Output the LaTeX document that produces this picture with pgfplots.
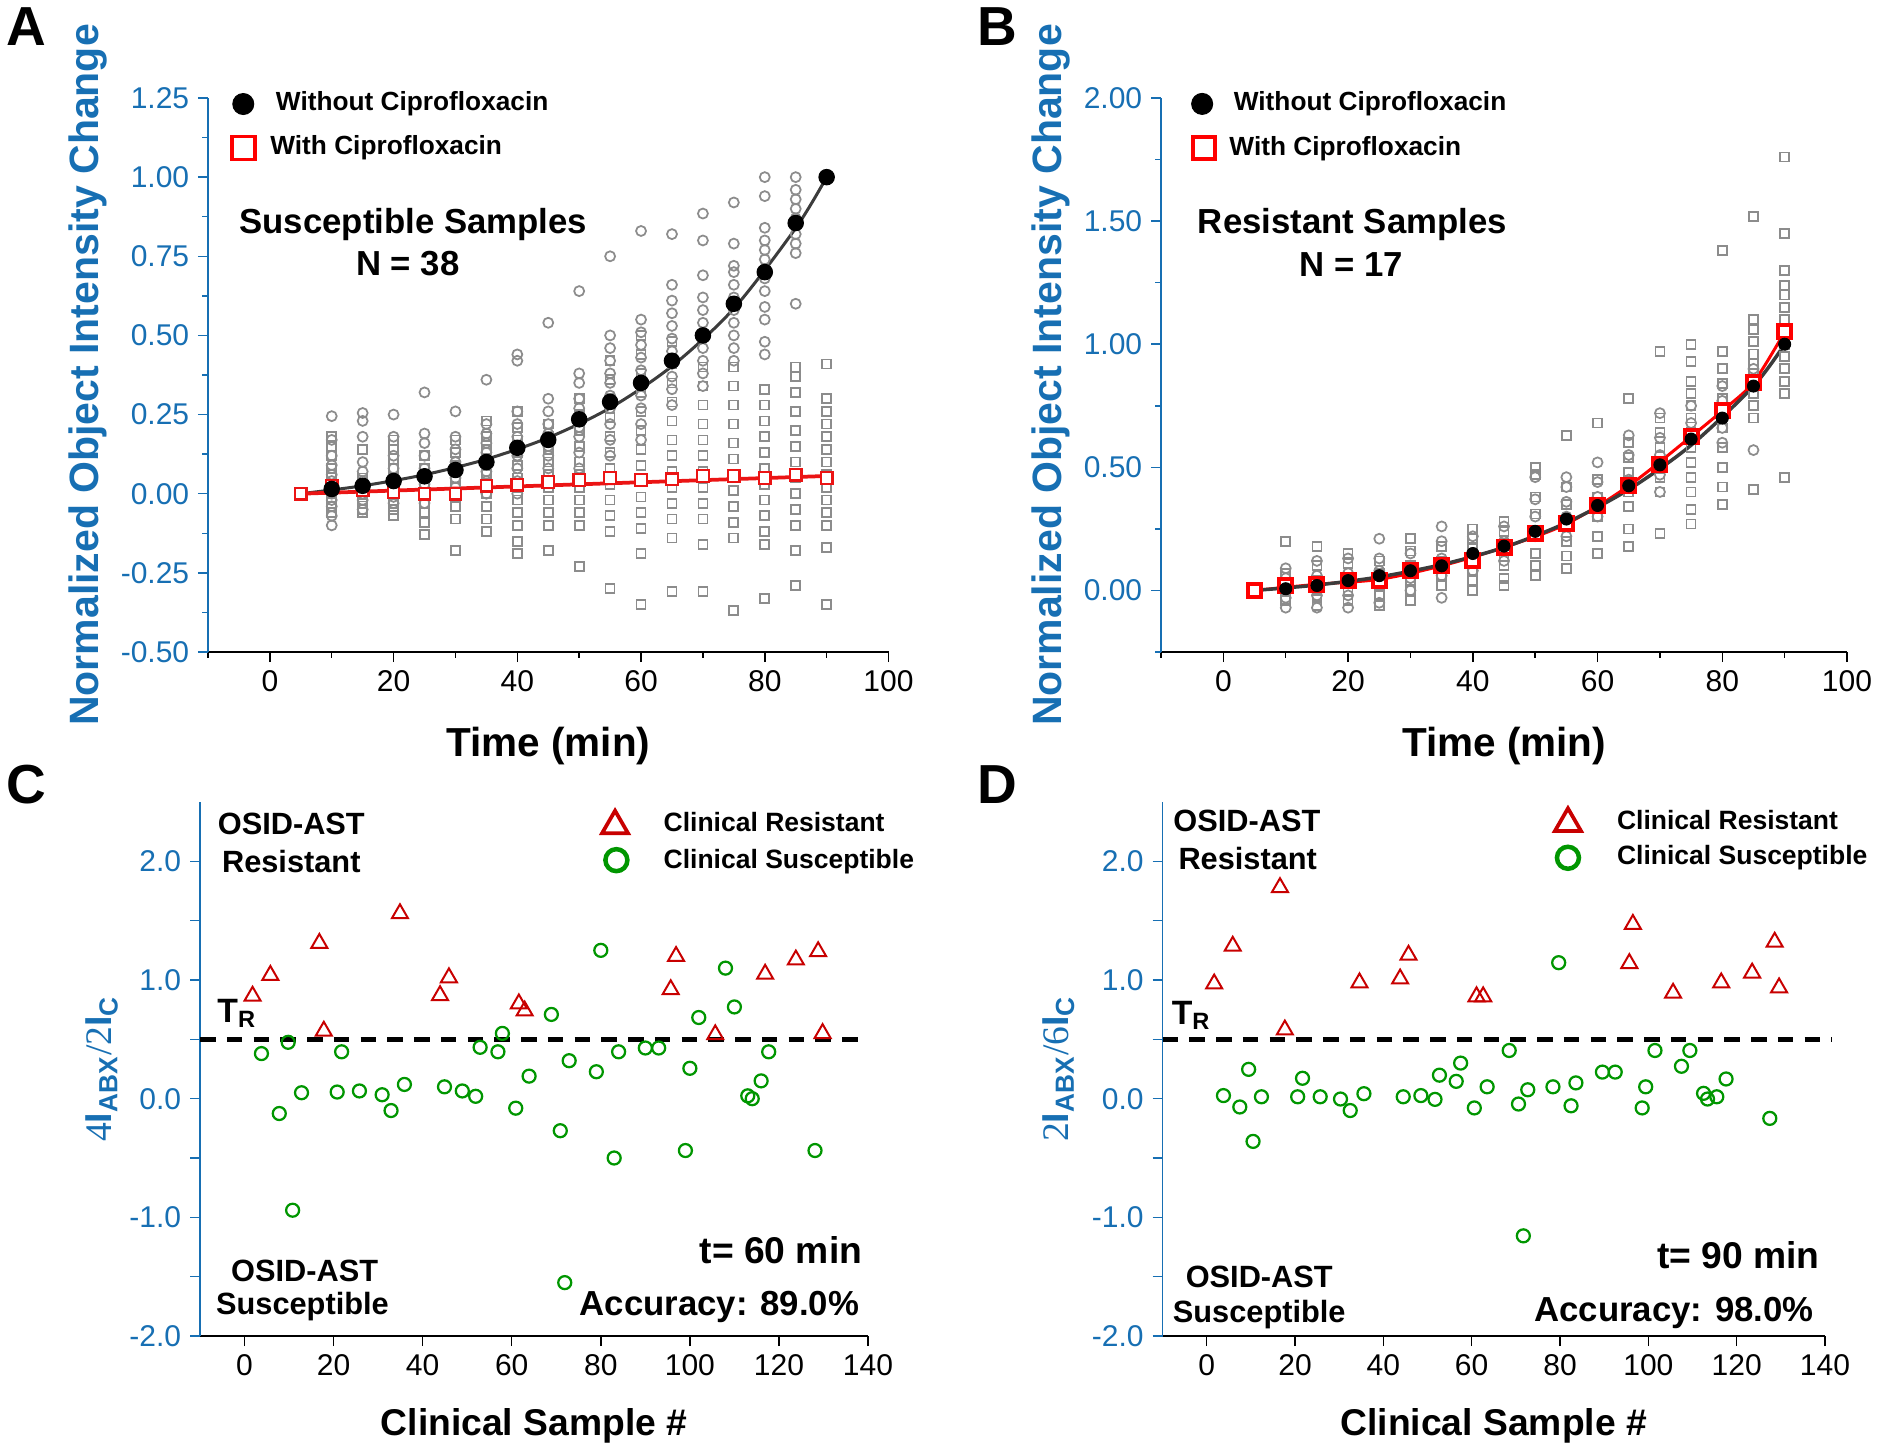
\documentclass[border=0pt]{standalone}
\usepackage{pgfplots}
\pgfplotsset{compat=1.18}
\usepackage{fontspec}
\setmainfont{Liberation Sans}
\newfontfamily\serifnum{Liberation Serif}
\definecolor{myblue}{RGB}{23,111,179}
\definecolor{mygray}{RGB}{140,140,140}
\definecolor{myred}{RGB}{235,20,20}
\definecolor{darkred}{RGB}{200,0,0}
\definecolor{mygreen}{RGB}{0,150,0}
\definecolor{fitgray}{RGB}{60,60,60}
\newcommand{\fs}[1]{\fontsize{#1}{#1}\selectfont}
\tikzset{tx/.style={inner sep=0pt, font=\bfseries\fs{#1}}}
\pgfplotsset{
  myax/.style={scale only axis, clip=false,
    axis x line*=bottom, axis y line*=left,
    x axis line style={-,black,line width=0.7pt},
    y axis line style={-,myblue,line width=0.7pt},
    tick align=outside, major tick length=4pt, minor tick length=2.3pt,
    x tick style={black,line width=0.6pt},
    y tick style={myblue,line width=0.6pt},
    tick label style={font=\fs{12}},
    yticklabel style={text=myblue},
    /pgf/number format/assume math mode=true,
    xlabel style={font=\bfseries\fs{16.2}, anchor=center},
    ylabel style={font=\bfseries\fs{16.4}, text=myblue, anchor=center},
  },
  gcirc/.style={only marks, mark=o, mark size=2pt, mygray, mark options={line width=0.7pt}, forget plot},
  gsq/.style={only marks, mark=square, mark size=1.8pt, mygray, mark options={line width=0.7pt}, forget plot},
}
\begin{document}
\begin{tikzpicture}
\useasboundingbox (0,0) rectangle (752pt,579.2pt);
% ---------------- Panel A ----------------
\begin{axis}[myax, at={(83.2pt,318.4pt)}, anchor=south west, width=272.2pt, height=221.6pt,
  xmin=-10, xmax=100, ymin=-0.5, ymax=1.25,
  xtick={0,20,...,100}, minor xtick={-10,10,...,90},
  ytick={-0.5,-0.25,...,1.25}, minor ytick={-0.375,-0.125,...,1.125},
  yticklabel style={/pgf/number format/.cd, fixed, fixed zerofill, precision=2},
  xlabel={Time (min)}, xlabel style={at={(axis description cs:0.5,-0.169)}},
  ylabel={Normalized Object Intensity Change}, ylabel style={at={(axis description cs:-0.177,0.5)}}]
\addplot[gsq] coordinates {
(10,0.18)(10,0.15)(10,0.12)(10,0.08)(10,0.05)(10,0.02)(10,0.0)(10,-0.02)(10,-0.04)(10,-0.06)
(15,0.14)(15,0.05)(15,0.03)(15,0.01)(15,-0.01)(15,-0.03)(15,-0.05)(15,-0.06)
(20,0.17)(20,0.14)(20,0.11)(20,0.08)(20,0.05)(20,0.02)(20,0.0)(20,-0.03)(20,-0.05)(20,-0.07)
(25,0.12)(25,0.08)(25,0.05)(25,0.02)(25,0.0)(25,-0.03)(25,-0.06)(25,-0.09)(25,-0.13)
(30,0.17)(30,0.13)(30,0.09)(30,0.05)(30,0.02)(30,-0.01)(30,-0.04)(30,-0.08)(30,-0.18)
(35,0.23)(35,0.18)(35,0.14)(35,0.10)(35,0.06)(35,0.03)(35,0.0)(35,-0.04)(35,-0.08)(35,-0.12)
(40,0.26)(40,0.21)(40,0.17)(40,0.13)(40,0.09)(40,0.05)(40,0.02)(40,-0.02)(40,-0.06)(40,-0.10)(40,-0.15)(40,-0.19)
(45,0.22)(45,0.18)(45,0.14)(45,0.10)(45,0.06)(45,0.02)(45,-0.02)(45,-0.06)(45,-0.10)(45,-0.18)
(50,0.30)(50,0.25)(50,0.20)(50,0.15)(50,0.10)(50,0.06)(50,0.02)(50,-0.02)(50,-0.06)(50,-0.10)(50,-0.23)
(55,0.42)(55,0.36)(55,0.30)(55,0.24)(55,0.18)(55,0.13)(55,0.08)(55,0.03)(55,-0.02)(55,-0.07)(55,-0.12)(55,-0.30)
(60,0.50)(60,0.44)(60,0.38)(60,0.32)(60,0.26)(60,0.20)(60,0.14)(60,0.09)(60,0.04)(60,-0.01)(60,-0.06)(60,-0.11)(60,-0.19)(60,-0.35)
(65,0.48)(65,0.41)(65,0.35)(65,0.29)(65,0.23)(65,0.17)(65,0.12)(65,0.07)(65,0.02)(65,-0.03)(65,-0.08)(65,-0.14)(65,-0.31)
(70,0.40)(70,0.34)(70,0.28)(70,0.22)(70,0.17)(70,0.12)(70,0.07)(70,0.02)(70,-0.03)(70,-0.08)(70,-0.16)(70,-0.31)
(75,0.40)(75,0.34)(75,0.28)(75,0.22)(75,0.16)(75,0.11)(75,0.06)(75,0.01)(75,-0.04)(75,-0.09)(75,-0.14)(75,-0.37)
(80,0.33)(80,0.28)(80,0.23)(80,0.18)(80,0.13)(80,0.08)(80,0.03)(80,-0.02)(80,-0.07)(80,-0.12)(80,-0.16)(80,-0.33)
(85,0.40)(85,0.37)(85,0.32)(85,0.26)(85,0.20)(85,0.15)(85,0.10)(85,0.05)(85,0.0)(85,-0.05)(85,-0.10)(85,-0.18)(85,-0.29)
(90,0.41)(90,0.30)(90,0.26)(90,0.22)(90,0.18)(90,0.14)(90,0.10)(90,0.06)(90,0.02)(90,-0.02)(90,-0.06)(90,-0.10)(90,-0.17)(90,-0.35)
};
\addplot[gcirc] coordinates {
(10,0.245)(10,0.17)(10,0.12)(10,0.09)(10,0.06)(10,0.04)(10,0.02)(10,0.0)(10,-0.02)(10,-0.04)(10,-0.07)(10,-0.1)
(15,0.255)(15,0.23)(15,0.18)(15,0.10)(15,0.07)(15,0.04)(15,0.02)(15,0.0)(15,-0.02)(15,-0.05)
(20,0.25)(20,0.18)(20,0.12)(20,0.08)(20,0.05)(20,0.03)(20,0.01)(20,-0.01)(20,-0.03)
(25,0.32)(25,0.19)(25,0.16)(25,0.12)(25,0.08)(25,0.06)(25,0.03)(25,0.0)(25,-0.03)
(30,0.26)(30,0.18)(30,0.14)(30,0.10)(30,0.08)(30,0.05)(30,0.02)(30,-0.01)
(35,0.36)(35,0.22)(35,0.19)(35,0.16)(35,0.13)(35,0.10)(35,0.07)(35,0.04)(35,0.0)
(40,0.44)(40,0.42)(40,0.26)(40,0.22)(40,0.18)(40,0.15)(40,0.12)(40,0.08)(40,0.04)(40,0.0)
(45,0.54)(45,0.30)(45,0.26)(45,0.22)(45,0.19)(45,0.15)(45,0.12)(45,0.08)
(50,0.64)(50,0.38)(50,0.35)(50,0.30)(50,0.27)(50,0.24)(50,0.21)(50,0.18)(50,0.13)(50,0.08)
(55,0.75)(55,0.50)(55,0.46)(55,0.42)(55,0.38)(55,0.35)(55,0.31)(55,0.27)(55,0.22)(55,0.17)(55,0.12)
(60,0.83)(60,0.55)(60,0.51)(60,0.47)(60,0.43)(60,0.39)(60,0.35)(60,0.31)(60,0.27)(60,0.22)(60,0.17)
(65,0.82)(65,0.66)(65,0.61)(65,0.57)(65,0.53)(65,0.49)(65,0.45)(65,0.41)(65,0.37)(65,0.33)(65,0.28)
(70,0.885)(70,0.80)(70,0.69)(70,0.62)(70,0.58)(70,0.54)(70,0.50)(70,0.46)(70,0.42)(70,0.38)(70,0.34)
(75,0.92)(75,0.79)(75,0.72)(75,0.70)(75,0.66)(75,0.62)(75,0.58)(75,0.54)(75,0.50)(75,0.46)(75,0.42)
(80,1.0)(80,0.94)(80,0.84)(80,0.80)(80,0.77)(80,0.74)(80,0.71)(80,0.68)(80,0.64)(80,0.59)(80,0.55)(80,0.48)(80,0.44)
(85,1.0)(85,0.96)(85,0.93)(85,0.90)(85,0.87)(85,0.85)(85,0.82)(85,0.79)(85,0.76)(85,0.60)
(90,1.0)
};
\addplot[fitgray, line width=1.2pt, smooth, forget plot] coordinates {
(5,0)(15,0.025)(25,0.060)(35,0.109)(45,0.177)(55,0.271)(65,0.403)(75,0.585)(85,0.839)(90,1.0)};
\addplot[myred, line width=1.5pt, forget plot] coordinates {
(5,0)(90,0.056)};
\addplot[only marks, mark=square*, mark size=2.3pt, mark options={draw=myred, fill=white, line width=0.9pt}, forget plot] coordinates {
(5,0)(10,0.025)(15,0.01)(20,0.005)(25,0)(30,0)(35,0.025)(40,0.028)(45,0.037)(50,0.043)(55,0.05)(60,0.043)(65,0.046)(70,0.056)(75,0.056)(80,0.05)(85,0.06)(90,0.05)};
\addplot[only marks, mark=*, mark size=3.1pt, black, forget plot] coordinates {
(10,0.015)(15,0.025)(20,0.04)(25,0.055)(30,0.075)(35,0.10)(40,0.145)(45,0.17)(50,0.235)(55,0.29)(60,0.35)(65,0.42)(70,0.50)(75,0.60)(80,0.70)(85,0.855)(90,1.0)};
% legend
\addplot[only marks, mark=*, mark size=4.2pt, black, forget plot] coordinates {(-4.3,1.231)};
\addplot[only marks, mark=square*, mark size=4.6pt, mark options={draw=red, fill=white, line width=1.5pt}, forget plot] coordinates {(-4.3,1.092)};
\node[tx=10.5, anchor=west] at (axis cs:0.9,1.231) {Without Ciprofloxacin};
\node[tx=10.5, anchor=west] at (axis cs:0.0,1.092) {With Ciprofloxacin};
\node[tx=13.9] at (axis cs:23.2,0.851) {Susceptible Samples};
\node[tx=13.9] at (axis cs:22.3,0.728) {N = 38};
\end{axis}
% ---------------- Panel B ----------------
\begin{axis}[myax, at={(464.4pt,318.4pt)}, anchor=south west, width=274.4pt, height=221.6pt,
  xmin=-10, xmax=100, ymin=-0.25, ymax=2.0,
  xtick={0,20,...,100}, minor xtick={-10,10,...,90},
  ytick={0,0.5,...,2.0}, minor ytick={-0.25,0.25,...,1.75},
  yticklabel style={/pgf/number format/.cd, fixed, fixed zerofill, precision=2},
  xlabel={Time (min)}, xlabel style={at={(axis description cs:0.5,-0.169)}},
  ylabel={Normalized Object Intensity Change}, ylabel style={at={(axis description cs:-0.160,0.5)}}]
\addplot[gsq] coordinates {
(10,0.2)(10,0.07)(10,0.03)(10,0.0)(10,-0.04)
(15,0.18)(15,0.10)(15,0.04)(15,0.0)(15,-0.03)(15,-0.06)
(20,0.15)(20,0.11)(20,0.05)(20,0.0)(20,-0.04)
(25,0.12)(25,0.07)(25,0.02)(25,-0.02)(25,-0.06)
(30,0.21)(30,0.16)(30,0.10)(30,0.04)(30,0.0)(30,-0.04)
(35,0.18)(35,0.12)(35,0.06)(35,0.02)
(40,0.25)(40,0.21)(40,0.17)(40,0.12)(40,0.08)(40,0.04)(40,0.0)
(45,0.28)(45,0.24)(45,0.19)(45,0.14)(45,0.10)(45,0.05)(45,0.02)
(50,0.50)(50,0.47)(50,0.38)(50,0.31)(50,0.23)(50,0.15)(50,0.10)(50,0.06)
(55,0.63)(55,0.42)(55,0.35)(55,0.28)(55,0.20)(55,0.14)(55,0.09)
(60,0.68)(60,0.45)(60,0.38)(60,0.30)(60,0.22)(60,0.15)
(65,0.78)(65,0.60)(65,0.54)(65,0.48)(65,0.40)(65,0.34)(65,0.25)(65,0.18)
(70,0.97)(70,0.70)(70,0.64)(70,0.58)(70,0.46)(70,0.40)(70,0.23)
(75,1.00)(75,0.93)(75,0.85)(75,0.80)(75,0.75)(75,0.70)(75,0.64)(75,0.58)(75,0.52)(75,0.46)(75,0.40)(75,0.33)(75,0.27)
(80,1.38)(80,0.97)(80,0.90)(80,0.84)(80,0.78)(80,0.72)(80,0.66)(80,0.58)(80,0.50)(80,0.42)(80,0.35)
(85,1.52)(85,1.10)(85,1.06)(85,1.01)(85,0.96)(85,0.92)(85,0.88)(85,0.80)(85,0.75)(85,0.70)(85,0.41)
(90,1.76)(90,1.45)(90,1.30)(90,1.24)(90,1.20)(90,1.15)(90,1.10)(90,1.06)(90,1.0)(90,0.95)(90,0.90)(90,0.85)(90,0.80)(90,0.46)
};
\addplot[gcirc] coordinates {
(10,0.09)(10,0.05)(10,0.02)(10,0.0)(10,-0.03)(10,-0.07)
(15,0.12)(15,0.06)(15,0.02)(15,-0.02)(15,-0.07)
(20,0.13)(20,0.07)(20,0.03)(20,-0.02)(20,-0.07)
(25,0.21)(25,0.13)(25,0.08)(25,0.04)(25,-0.05)
(30,0.15)(30,0.09)(30,0.05)(30,0.0)
(35,0.26)(35,0.20)(35,0.13)(35,0.06)(35,-0.03)
(40,0.22)(40,0.14)(40,0.08)
(45,0.26)(45,0.20)(45,0.12)
(50,0.46)(50,0.37)(50,0.30)(50,0.22)
(55,0.46)(55,0.42)(55,0.36)(55,0.30)(55,0.22)
(60,0.52)(60,0.44)(60,0.38)(60,0.30)
(65,0.63)(65,0.55)(65,0.45)
(70,0.72)(70,0.62)(70,0.55)(70,0.47)(70,0.40)
(75,0.75)(75,0.68)
(80,0.83)(80,0.77)(80,0.66)(80,0.60)
(85,0.57)(85,0.85)(85,0.90)
(90,1.0)
};
\addplot[red, line width=1.2pt, smooth, forget plot] coordinates {
(5,0)(15,0.025)(25,0.045)(35,0.10)(45,0.175)(55,0.27)(65,0.425)(75,0.625)(80,0.73)(85,0.845)(90,1.05)};
\addplot[only marks, mark=square*, mark size=2.6pt, mark options={draw=red, fill=white, line width=1.6pt}, forget plot] coordinates {
(5,0)(10,0.02)(15,0.025)(20,0.04)(25,0.04)(30,0.08)(35,0.10)(40,0.12)(45,0.175)(50,0.23)(55,0.27)(60,0.345)(65,0.425)(70,0.51)(75,0.625)(80,0.73)(85,0.845)(90,1.05)};
\addplot[fitgray, line width=1.4pt, smooth, forget plot] coordinates {
(5,0)(15,0.022)(25,0.055)(35,0.105)(45,0.175)(55,0.275)(65,0.41)(75,0.59)(85,0.83)(90,1.0)};
\addplot[only marks, mark=*, mark size=2.4pt, black, forget plot] coordinates {
(10,0.007)(15,0.02)(20,0.04)(25,0.06)(30,0.08)(35,0.10)(40,0.15)(45,0.18)(50,0.24)(55,0.29)(60,0.345)(65,0.425)(70,0.51)(75,0.615)(80,0.70)(85,0.83)(90,1.0)};
\addplot[only marks, mark=*, mark size=4.2pt, black, forget plot] coordinates {(-3.4,1.976)};
\addplot[only marks, mark=square*, mark size=4.4pt, mark options={draw=red, fill=white, line width=1.6pt}, forget plot] coordinates {(-3.1,1.796)};
\node[tx=10.5, anchor=west] at (axis cs:1.6,1.976) {Without Ciprofloxacin};
\node[tx=10.5, anchor=west] at (axis cs:0.9,1.796) {With Ciprofloxacin};
\node[tx=13.9] at (axis cs:20.7,1.486) {Resistant Samples};
\node[tx=13.9] at (axis cs:20.5,1.325) {N = 17};
\end{axis}
% ---------------- Panel C ----------------
\begin{axis}[myax, at={(80pt,44.8pt)}, anchor=south west, width=267.2pt, height=213.6pt,
  xmin=-10, xmax=140, ymin=-2, ymax=2.5,
  xtick={0,20,...,140},
  ytick={-2,-1,0,1,2}, minor ytick={-1.5,-0.5,0.5,1.5},
  minor tick length=4pt,
  yticklabel style={/pgf/number format/.cd, fixed, fixed zerofill, precision=1},
  xlabel={Clinical Sample \#}, xlabel style={font=\bfseries\fs{14.9}, at={(axis description cs:0.5,-0.168)}},
  ylabel={{\serifnum\mdseries 4}I\textsubscript{ABX}{\serifnum\mdseries /2}I\textsubscript{C}},
  ylabel style={font=\bfseries\fs{15}, at={(axis description cs:-0.147,0.5)}}]
\addplot[black, line width=1.8pt, dash pattern=on 6.2pt off 4.5pt, forget plot] coordinates {(-10,0.5) (140,0.5)};
\addplot[only marks, mark=triangle, mark size=3.7pt, darkred, mark options={line width=0.8pt}, forget plot] coordinates {
(1.8,0.865)(5.8,1.04)(16.8,1.31)(17.8,0.57)(34.9,1.56)(43.9,0.87)(45.9,1.02)(61.6,0.80)(62.9,0.74)(95.7,0.92)(96.9,1.20)(105.7,0.54)(116.9,1.05)(123.8,1.17)(128.8,1.24)(129.8,0.55)};
\addplot[only marks, mark=o, mark size=2.6pt, mygreen, mark options={line width=0.9pt}, forget plot] coordinates {
(3.8,0.38)(7.8,-0.125)(9.8,0.475)(10.8,-0.94)(12.8,0.05)(20.8,0.056)(21.8,0.395)(25.8,0.065)(30.9,0.033)(32.9,-0.10)(35.9,0.12)(44.9,0.10)(48.9,0.065)(51.9,0.02)(52.9,0.433)(56.9,0.395)(57.9,0.55)(60.9,-0.08)(63.9,0.19)(68.9,0.71)(70.9,-0.27)(71.9,-1.55)(72.9,0.32)(79.0,0.227)(80.0,1.25)(83.0,-0.5)(84.0,0.395)(90.0,0.427)(93.0,0.427)(99.0,-0.437)(100.0,0.256)(102.0,0.684)(108.0,1.10)(110.0,0.773)(113.0,0.024)(114.0,0.0)(116.0,0.15)(117.7,0.395)(128.1,-0.437)};
\addplot[only marks, mark=triangle, mark size=6pt, darkred, mark options={line width=1.5pt}, forget plot] coordinates {(83.2,2.30)};
\addplot[only marks, mark=o, mark size=4.4pt, mygreen, mark options={line width=1.8pt}, forget plot] coordinates {(83.5,2.01)};
\node[tx=10.6, anchor=west] at (axis cs:94,2.33) {Clinical Resistant};
\node[tx=10.6, anchor=west] at (axis cs:94,2.0) {Clinical Susceptible};
\node[tx=12.3] at (axis cs:10.5,2.316) {OSID-AST};
\node[tx=12.3] at (axis cs:10.5,2.0) {Resistant};
\node[tx=12.3] at (axis cs:13.5,-1.45) {OSID-AST};
\node[tx=12.3] at (axis cs:13.0,-1.75) {Susceptible};
\node[tx=13.5, anchor=west] at (axis cs:-6.2,0.72) {T\textsubscript{R}};
\node[tx=14.9, anchor=east] at (axis cs:138.8,-1.278) {t= 60 min};
\node[tx=13.9, anchor=east] at (axis cs:138.1,-1.754) {Accuracy: 89.0\%};
\end{axis}
% ---------------- Panel D ----------------
\begin{axis}[myax, at={(465pt,44.8pt)}, anchor=south west, width=265pt, height=213.6pt,
  xmin=-10, xmax=140, ymin=-2, ymax=2.5,
  xtick={0,20,...,140},
  ytick={-2,-1,0,1,2}, minor ytick={-1.5,-0.5,0.5,1.5},
  minor tick length=4pt,
  yticklabel style={/pgf/number format/.cd, fixed, fixed zerofill, precision=1},
  xlabel={Clinical Sample \#}, xlabel style={font=\bfseries\fs{14.9}, at={(axis description cs:0.5,-0.168)}},
  ylabel={{\serifnum\mdseries 2}I\textsubscript{ABX}{\serifnum\mdseries /6}I\textsubscript{C}},
  ylabel style={font=\bfseries\fs{15}, at={(axis description cs:-0.157,0.5)}}]
\addplot[black, line width=1.8pt, dash pattern=on 6.2pt off 4.5pt, forget plot] coordinates {(-10,0.5) (141.5,0.5)};
\addplot[only marks, mark=triangle, mark size=3.7pt, darkred, mark options={line width=0.8pt}, forget plot] coordinates {
(1.7,0.968)(5.9,1.286)(16.6,1.78)(17.7,0.58)(34.6,0.977)(43.8,1.01)(45.7,1.21)(61.1,0.86)(62.6,0.86)(95.7,1.14)(96.5,1.47)(105.6,0.89)(116.5,0.977)(123.5,1.06)(128.6,1.32)(129.6,0.935)};
\addplot[only marks, mark=o, mark size=2.6pt, mygreen, mark options={line width=0.9pt}, forget plot] coordinates {
(3.8,0.026)(7.5,-0.07)(9.5,0.247)(10.5,-0.36)(12.4,0.016)(20.6,0.016)(21.7,0.172)(25.7,0.016)(30.3,-0.003)(32.5,-0.10)(35.6,0.042)(44.5,0.016)(48.5,0.026)(51.7,-0.006)(52.7,0.198)(56.5,0.146)(57.5,0.30)(60.6,-0.078)(63.5,0.10)(68.5,0.406)(70.6,-0.045)(71.7,-1.156)(72.7,0.075)(78.4,0.10)(79.7,1.146)(82.5,-0.06)(83.6,0.133)(89.6,0.224)(92.5,0.224)(98.6,-0.078)(99.4,0.10)(101.5,0.406)(107.5,0.273)(109.4,0.406)(112.5,0.045)(113.4,-0.003)(115.5,0.016)(117.6,0.166)(127.5,-0.166)};
\addplot[only marks, mark=triangle, mark size=6pt, darkred, mark options={line width=1.5pt}, forget plot] coordinates {(81.8,2.32)};
\addplot[only marks, mark=o, mark size=4.4pt, mygreen, mark options={line width=1.8pt}, forget plot] coordinates {(81.8,2.03)};
\node[tx=10.6, anchor=west] at (axis cs:92.8,2.347) {Clinical Resistant};
\node[tx=10.6, anchor=west] at (axis cs:92.8,2.03) {Clinical Susceptible};
\node[tx=12.3] at (axis cs:9.1,2.34) {OSID-AST};
\node[tx=12.3] at (axis cs:9.3,2.026) {Resistant};
\node[tx=12.3] at (axis cs:11.9,-1.506) {OSID-AST};
\node[tx=12.3] at (axis cs:11.9,-1.82) {Susceptible};
\node[tx=13.5, anchor=west] at (axis cs:-8.0,0.70) {T\textsubscript{R}};
\node[tx=14.9, anchor=east] at (axis cs:138.9,-1.32) {t= 90 min};
\node[tx=13.9, anchor=east] at (axis cs:137.6,-1.81) {Accuracy: 98.0\%};
\end{axis}
% panel letters
\node[tx=22] at (10.4pt,568.4pt) {A};
\node[tx=22] at (399pt,568.4pt) {B};
\node[tx=22] at (10.4pt,265.2pt) {C};
\node[tx=22] at (399pt,265.2pt) {D};
\end{tikzpicture}
\end{document}
